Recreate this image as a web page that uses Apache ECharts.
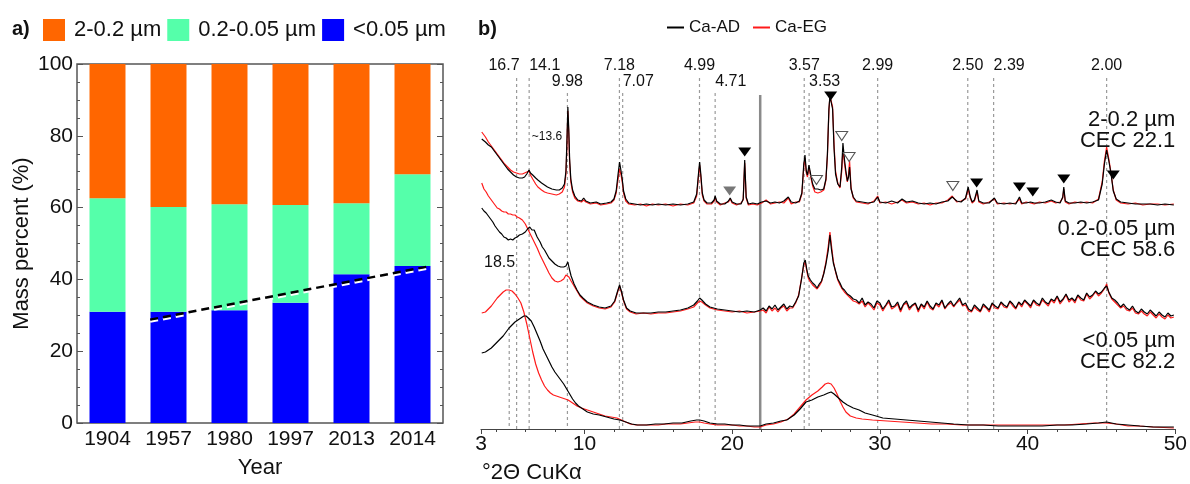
<!DOCTYPE html>
<html>
<head>
<meta charset="utf-8">
<script src="https://cdn.jsdelivr.net/npm/echarts@6.0.0/dist/echarts.min.js"></script>
<style>
  html, body { margin: 0; padding: 0; background: #fff; }
  #chart { width: 1190px; height: 484px; }
</style>
</head>
<body>
<div id="chart"></div>
<script>
// ---------- panel a: particle-size fractions by sampling year ----------
const years = ['1904', '1957', '1980', '1997', '2013', '2014'];
const fineFrac   = [31.0, 31.0, 31.4, 33.5, 41.4, 43.7];   // <0.05 µm
const mediumFrac = [31.6, 29.2, 29.5, 27.2, 19.8, 25.6];   // 0.2-0.05 µm
const coarseFrac = [37.4, 39.8, 39.1, 39.3, 38.8, 30.7];   // 2-0.2 µm
// linear trend of the <0.05 µm fraction (x in category units)
const fineTrend = [[1.2, 28.8], [5.79, 43.7]];

// ---------- panel b: XRD patterns (°2θ, intensity) ----------
const coarseAD = [[3.05,290],[3.3,287],[3.5,284],[3.7,282],[3.9,278],[4.1,274],[4.35,269],[4.6,264],[4.8,260],[5.0,257],[5.2,254],[5.4,252],[5.6,251],[5.8,251],[5.95,252],[6.1,255],[6.25,259],[6.35,256],[6.5,254],[6.7,251],[6.85,249],[7.1,246],[7.3,244],[7.5,242],[7.8,240],[8.1,239],[8.3,239],[8.5,241],[8.65,245],[8.75,258],[8.82,290],[8.88,322],[8.94,300],[9.0,270],[9.08,250],[9.2,239],[9.35,233],[9.55,229],[9.8,228],[9.95,231],[10.1,228],[10.4,226],[10.8,227],[11.1,225],[11.5,226],[11.8,227],[12.0,230],[12.15,238],[12.28,255],[12.38,267],[12.48,258],[12.56,250],[12.65,238],[12.8,230],[13.0,226],[13.4,225],[13.8,224],[14.2,225],[14.6,224],[15.0,225],[15.5,224],[16.0,225],[16.5,224],[17.0,225],[17.4,227],[17.6,235],[17.72,255],[17.8,267],[17.88,255],[17.98,236],[18.1,229],[18.3,226],[18.6,226],[18.78,229],[18.85,233],[18.95,228],[19.2,225],[19.5,225],[19.75,228],[19.87,231],[20.0,227],[20.3,225],[20.6,225],[20.75,230],[20.85,269],[20.95,232],[21.1,225],[21.4,226],[21.7,225],[22.0,227],[22.3,228],[22.6,226],[22.9,227],[23.2,226],[23.5,228],[23.8,232],[24.0,227],[24.3,226],[24.55,228],[24.72,236],[24.85,265],[24.93,274],[25.02,258],[25.1,254],[25.2,264],[25.26,266],[25.35,252],[25.45,245],[25.6,240],[25.8,240],[26.0,239],[26.2,240],[26.35,250],[26.45,275],[26.55,320],[26.62,333],[26.72,333],[26.8,320],[26.9,280],[27.0,255],[27.15,245],[27.3,242],[27.42,262],[27.5,286],[27.6,270],[27.7,258],[27.8,248],[27.88,252],[27.95,262],[28.05,240],[28.2,232],[28.4,228],[28.8,227],[29.2,226],[29.6,227],[29.85,232],[30.0,227],[30.4,226],[30.8,228],[31.2,226],[31.5,230],[31.8,227],[32.2,228],[32.6,226],[33.0,225],[33.4,226],[33.8,225],[34.2,227],[34.6,228],[34.9,232],[35.2,228],[35.5,227],[35.8,231],[35.98,242],[36.12,232],[36.25,227],[36.4,229],[36.58,239],[36.7,228],[37.0,226],[37.4,226],[37.75,231],[37.95,226],[38.4,225],[38.8,226],[39.2,225],[39.45,232],[39.6,226],[39.9,226],[40.2,227],[40.3,229],[40.45,226],[40.8,226],[41.2,227],[41.6,229],[41.9,227],[42.2,226],[42.38,232],[42.45,242],[42.55,228],[42.8,226],[43.2,226],[43.6,227],[44.0,226],[44.4,227],[44.8,229],[45.05,245],[45.2,265],[45.35,279],[45.5,268],[45.65,255],[45.8,238],[46.0,230],[46.3,227],[46.8,226],[47.3,225],[47.8,225],[48.3,225],[48.8,224],[49.3,225],[49.9,224]];

const coarseEG = [[3.05,297],[3.3,292],[3.5,287],[3.7,283],[3.9,279],[4.1,275],[4.35,270],[4.6,265],[4.8,262],[5.0,259],[5.2,257],[5.4,256],[5.6,255],[5.8,255],[5.95,256],[6.1,257],[6.25,258],[6.35,254],[6.5,250],[6.7,245],[6.85,242],[7.1,239],[7.3,237],[7.5,236],[7.8,235],[8.1,234],[8.3,235],[8.5,237],[8.65,242],[8.75,255],[8.82,285],[8.88,318],[8.94,296],[9.0,266],[9.08,247],[9.2,237],[9.35,231],[9.55,228],[9.8,227],[9.95,229],[10.1,227],[10.4,225],[10.8,226],[11.1,224],[11.5,225],[11.8,226],[12.0,229],[12.15,236],[12.28,250],[12.38,260],[12.48,254],[12.56,247],[12.65,236],[12.8,228],[13.0,225],[13.4,224],[13.8,225],[14.2,223],[14.6,225],[15.0,224],[15.5,225],[16.0,223],[16.5,225],[17.0,224],[17.4,226],[17.6,233],[17.72,252],[17.8,264],[17.88,252],[17.98,234],[18.1,228],[18.3,225],[18.6,225],[18.78,228],[18.85,232],[18.95,227],[19.2,224],[19.5,226],[19.75,227],[19.87,230],[20.0,226],[20.3,224],[20.6,226],[20.75,229],[20.85,266],[20.95,231],[21.1,224],[21.4,225],[21.7,224],[22.0,226],[22.3,229],[22.6,225],[22.9,226],[23.2,227],[23.5,226],[23.8,231],[24.0,225],[24.3,227],[24.55,227],[24.72,235],[24.85,262],[24.93,271],[25.02,256],[25.1,252],[25.2,262],[25.26,263],[25.35,250],[25.45,243],[25.6,237],[25.8,236],[26.0,237],[26.2,239],[26.35,249],[26.45,273],[26.55,318],[26.62,333],[26.72,333],[26.8,322],[26.9,284],[27.0,258],[27.15,246],[27.3,241],[27.42,258],[27.5,280],[27.6,266],[27.7,255],[27.8,247],[27.88,255],[27.95,268],[28.05,241],[28.2,231],[28.4,227],[28.8,226],[29.2,225],[29.6,228],[29.85,233],[30.0,226],[30.4,227],[30.8,225],[31.2,227],[31.5,229],[31.8,226],[32.2,227],[32.6,225],[33.0,226],[33.4,224],[33.8,226],[34.2,226],[34.6,229],[34.9,233],[35.2,227],[35.5,228],[35.8,230],[35.98,240],[36.12,231],[36.25,226],[36.4,228],[36.58,237],[36.7,227],[37.0,225],[37.4,227],[37.75,230],[37.95,225],[38.4,226],[38.8,225],[39.2,226],[39.45,230],[39.6,225],[39.9,227],[40.2,226],[40.3,228],[40.45,225],[40.8,227],[41.2,226],[41.6,228],[41.9,226],[42.2,227],[42.38,231],[42.45,240],[42.55,227],[42.8,225],[43.2,227],[43.6,226],[44.0,227],[44.4,226],[44.8,230],[45.05,247],[45.2,268],[45.35,282],[45.5,270],[45.65,256],[45.8,239],[46.0,229],[46.3,226],[46.8,225],[47.3,226],[47.8,224],[48.3,225],[48.8,225],[49.3,224],[49.9,225]];

const mediumAD = [[3.05,221],[3.2,218],[3.35,216],[3.5,213],[3.65,210],[3.8,207],[3.95,203],[4.1,200],[4.25,197],[4.4,195],[4.55,192],[4.7,191],[4.85,189],[5.0,190],[5.15,189],[5.3,191],[5.45,192],[5.6,194],[5.8,195],[6.0,197],[6.15,200],[6.3,202],[6.45,199],[6.6,199],[6.8,192],[7.0,187],[7.15,182],[7.3,179],[7.45,175],[7.6,171],[7.8,168],[8.0,165],[8.2,163],[8.4,162],[8.6,162],[8.75,163],[8.88,167],[8.98,160],[9.1,153],[9.3,145],[9.5,139],[9.7,134],[9.9,131],[10.2,127],[10.6,124],[11.0,122],[11.4,121],[11.8,123],[12.05,128],[12.25,138],[12.38,144],[12.5,138],[12.65,129],[12.85,121],[13.1,118],[13.5,116],[14.0,116],[14.5,116],[15.0,117],[15.5,117],[16.0,118],[16.5,119],[17.0,121],[17.4,124],[17.65,128],[17.8,131],[17.95,129],[18.2,125],[18.5,122],[19.0,120],[19.5,119],[20.0,118],[20.5,117],[21.0,118],[21.5,117],[21.9,119],[22.1,121],[22.3,118],[22.5,123],[22.7,120],[22.9,124],[23.1,119],[23.3,122],[23.5,125],[23.7,120],[23.9,123],[24.1,122],[24.3,127],[24.5,133],[24.7,150],[24.85,166],[24.95,169],[25.05,160],[25.15,153],[25.3,149],[25.45,146],[25.6,144],[25.75,141],[25.9,145],[26.05,148],[26.2,155],[26.35,165],[26.5,178],[26.62,194],[26.72,180],[26.85,166],[27.0,158],[27.15,150],[27.3,146],[27.45,141],[27.6,139],[27.8,135],[28.0,133],[28.2,130],[28.4,129],[28.6,126],[28.8,131],[29.0,124],[29.2,127],[29.4,125],[29.6,121],[29.8,128],[30.0,126],[30.2,120],[30.4,124],[30.6,129],[30.8,122],[31.0,123],[31.2,127],[31.4,119],[31.6,125],[31.8,128],[32.0,121],[32.2,124],[32.4,126],[32.6,119],[32.8,125],[33.0,122],[33.2,128],[33.4,123],[33.6,120],[33.8,126],[34.0,124],[34.2,129],[34.4,121],[34.6,125],[34.8,128],[35.0,123],[35.2,127],[35.4,131],[35.6,124],[35.8,126],[36.0,120],[36.2,118],[36.4,124],[36.6,121],[36.8,118],[37.0,125],[37.2,122],[37.4,119],[37.6,126],[37.8,123],[38.0,121],[38.2,127],[38.4,124],[38.6,122],[38.8,128],[39.0,125],[39.2,121],[39.4,127],[39.6,124],[39.8,129],[40.0,126],[40.2,123],[40.4,129],[40.6,126],[40.8,124],[41.0,131],[41.2,127],[41.4,125],[41.6,130],[41.8,128],[42.0,133],[42.2,127],[42.4,130],[42.6,135],[42.8,129],[43.0,131],[43.2,128],[43.4,134],[43.6,131],[43.8,129],[44.0,136],[44.2,132],[44.4,134],[44.6,138],[44.8,135],[45.0,137],[45.2,141],[45.35,143],[45.5,137],[45.7,131],[45.9,129],[46.1,126],[46.3,122],[46.5,125],[46.7,121],[46.9,119],[47.1,123],[47.3,118],[47.5,116],[47.7,120],[47.9,117],[48.1,115],[48.3,119],[48.5,116],[48.7,113],[48.9,117],[49.1,114],[49.3,112],[49.5,116],[49.7,113],[49.9,114]];

const mediumEG = [[3.05,246],[3.2,240],[3.35,237],[3.5,233],[3.65,230],[3.8,227],[3.95,224],[4.1,221],[4.25,220],[4.4,218],[4.55,217],[4.7,217],[4.85,215],[5.0,215],[5.15,214],[5.3,214],[5.45,212],[5.6,211],[5.8,209],[6.0,205],[6.2,199],[6.4,193],[6.6,187],[6.8,181],[7.0,174],[7.2,168],[7.4,162],[7.6,156],[7.8,151],[8.0,148],[8.2,147],[8.4,148],[8.6,150],[8.75,154],[8.85,156],[8.95,152],[9.1,148],[9.3,143],[9.5,138],[9.7,133],[9.9,130],[10.2,126],[10.6,123],[11.0,121],[11.4,120],[11.8,122],[12.05,127],[12.25,137],[12.38,143],[12.5,137],[12.65,128],[12.85,120],[13.1,117],[13.5,115],[14.0,116],[14.5,115],[15.0,116],[15.5,116],[16.0,117],[16.5,118],[17.0,120],[17.4,122],[17.65,126],[17.8,128],[17.95,127],[18.2,124],[18.5,121],[19.0,119],[19.5,118],[20.0,117],[20.5,118],[21.0,116],[21.5,117],[21.9,118],[22.1,119],[22.3,116],[22.5,122],[22.7,118],[22.9,121],[23.1,117],[23.3,121],[23.5,123],[23.7,118],[23.9,121],[24.1,121],[24.3,126],[24.5,134],[24.7,151],[24.85,164],[24.95,167],[25.05,158],[25.15,151],[25.3,147],[25.45,144],[25.6,142],[25.75,140],[25.9,143],[26.05,147],[26.2,156],[26.35,167],[26.5,182],[26.62,197],[26.72,184],[26.85,168],[27.0,157],[27.15,149],[27.3,144],[27.45,140],[27.6,137],[27.8,134],[28.0,131],[28.2,128],[28.4,127],[28.6,125],[28.8,128],[29.0,122],[29.2,126],[29.4,123],[29.6,119],[29.8,126],[30.0,124],[30.2,118],[30.4,123],[30.6,127],[30.8,120],[31.0,122],[31.2,125],[31.4,117],[31.6,124],[31.8,126],[32.0,119],[32.2,123],[32.4,125],[32.6,117],[32.8,124],[33.0,120],[33.2,127],[33.4,121],[33.6,119],[33.8,125],[34.0,122],[34.2,128],[34.4,120],[34.6,124],[34.8,126],[35.0,122],[35.2,126],[35.4,129],[35.6,123],[35.8,124],[36.0,118],[36.2,117],[36.4,122],[36.6,119],[36.8,117],[37.0,123],[37.2,121],[37.4,117],[37.6,125],[37.8,121],[38.0,120],[38.2,126],[38.4,122],[38.6,121],[38.8,127],[39.0,123],[39.2,120],[39.4,126],[39.6,122],[39.8,128],[40.0,125],[40.2,121],[40.4,128],[40.6,124],[40.8,123],[41.0,129],[41.2,126],[41.4,123],[41.6,129],[41.8,126],[42.0,132],[42.2,125],[42.4,129],[42.6,134],[42.8,127],[43.0,130],[43.2,126],[43.4,133],[43.6,129],[43.8,128],[44.0,135],[44.2,130],[44.4,133],[44.6,137],[44.8,133],[45.0,136],[45.2,140],[45.35,145],[45.5,136],[45.7,130],[45.9,127],[46.1,124],[46.3,121],[46.5,123],[46.7,119],[46.9,118],[47.1,121],[47.3,116],[47.5,115],[47.7,118],[47.9,115],[48.1,113],[48.3,117],[48.5,114],[48.7,111],[48.9,115],[49.1,112],[49.3,110],[49.5,114],[49.7,111],[49.9,112]];

const fineAD = [[3.05,76],[3.3,77],[3.5,79],[3.7,81],[3.9,84],[4.1,87],[4.3,90],[4.5,93],[4.7,97],[4.9,101],[5.1,104],[5.3,107],[5.5,109],[5.7,111],[5.9,113],[6.05,113],[6.2,111],[6.4,108],[6.6,102],[6.8,95],[7.0,88],[7.2,80],[7.4,74],[7.6,68],[7.8,62],[8.0,57],[8.2,53],[8.4,49],[8.6,45],[8.8,40],[9.0,35],[9.2,30],[9.4,26],[9.6,23],[9.9,20],[10.2,17],[10.6,15],[11.0,14],[11.5,12],[12.0,10],[12.4,9],[12.8,7],[13.2,5],[13.6,4],[14.2,4],[14.8,5],[15.4,5],[16.0,6],[16.6,6],[17.2,8],[17.6,9],[17.8,9],[18.1,8],[18.5,6],[19.0,5],[19.5,5],[20.0,4],[20.5,4],[21.0,3],[21.5,3],[21.9,3],[22.3,5],[22.8,6],[23.3,8],[23.7,9],[24.2,14],[24.6,20],[25.0,27],[25.4,29],[25.8,32],[26.2,34],[26.5,36],[26.7,37],[26.9,35],[27.2,31],[27.5,27],[27.8,24],[28.2,21],[28.6,19],[29.0,16],[29.5,14],[30.2,11],[31.0,10],[31.8,9],[32.6,8],[33.4,7],[34.2,6],[35.0,5],[36.0,4],[37.0,4],[38.0,3],[39.0,3],[40.0,3],[41.0,3],[42.0,4],[43.0,4],[44.0,5],[44.8,6],[45.35,7],[46.0,5],[46.8,4],[47.6,3],[48.5,2],[49.9,2]];

const fineEG = [[3.05,116],[3.3,117],[3.5,120],[3.7,123],[3.9,127],[4.1,131],[4.3,134],[4.5,137],[4.7,139],[4.9,139],[5.1,138],[5.3,135],[5.5,131],[5.7,126],[5.9,117],[6.1,105],[6.3,91],[6.5,77],[6.7,65],[6.9,56],[7.1,49],[7.3,43],[7.5,39],[7.7,36],[7.9,34],[8.1,33],[8.3,32],[8.5,31],[8.7,30],[8.9,29],[9.1,27],[9.3,25],[9.5,23],[9.8,21],[10.2,19],[10.6,17],[11.0,15],[11.4,13],[11.8,12],[12.2,11],[12.5,9],[12.8,7],[13.1,5],[13.5,4],[14.0,4],[14.5,4],[15.0,4],[15.5,5],[16.0,5],[16.5,5],[17.0,6],[17.5,7],[17.8,7],[18.1,6],[18.5,5],[19.0,4],[19.5,4],[20.0,4],[20.5,3],[21.0,3],[21.5,2],[21.9,2],[22.3,4],[22.8,5],[23.3,7],[23.8,10],[24.2,15],[24.6,22],[25.0,29],[25.4,34],[25.8,38],[26.1,42],[26.3,45],[26.5,46],[26.7,45],[26.9,41],[27.1,35],[27.3,28],[27.5,22],[27.7,17],[28.0,13],[28.4,11],[28.8,10],[29.5,9],[30.5,8],[31.5,7],[32.5,6],[33.5,5],[34.5,5],[35.5,4],[36.5,4],[37.5,4],[38.5,4],[39.5,4],[40.5,4],[41.5,4],[42.5,4],[43.5,5],[44.5,6],[45.3,6],[46.0,5],[46.8,3],[47.5,3],[48.5,2],[49.9,1]];

// d-spacings (Å) marked above the patterns and their °2θ positions
const dLabels = ['16.7', '14.1', '9.98', '7.18', '7.07', '4.99', '4.71', '3.57', '3.53', '2.99', '2.50', '2.39', '2.00'];
const dPositions = [5.41, 6.26, 8.85, 12.37, 12.59, 17.79, 18.85, 24.88, 25.21, 29.85, 35.95, 37.7, 45.35];
const glycolatedPeak = { label: '18.5', pos: 4.91 };

// mineral markers above the 2-0.2 µm pattern
const filledMarks = [[20.85, 277], [26.67, 333], [36.55, 246], [39.45, 242], [40.35, 237], [42.45, 250], [45.8, 254]];
const greyMarks = [[19.83, 238]];
const openMarks = [[25.71, 249], [27.42, 293], [27.92, 272], [34.94, 243]];

// sample annotations
const sampleNames = ['2-0.2 µm\nCEC 22.1', '0.2-0.05 µm\nCEC 58.6', '<0.05 µm\nCEC 82.2'];
const sampleNameY = [299, 190, 78];

// ---------- layout helpers (styling only) ----------
const FONT = "'Liberation Sans', Arial, sans-serif";
const TXT = '#111111';
const rowOf = { '16.7': 1, '14.1': 1, '9.98': 2, '7.18': 1, '7.07': 2, '4.99': 1, '4.71': 2, '3.57': 1, '3.53': 2, '2.99': 1, '2.50': 1, '2.39': 1, '2.00': 1 };
const alignOf = { '16.7': 'right', '14.1': 'left', '7.07': 'left', '4.71': 'left', '3.53': 'left', '2.39': 'left' };
const rowLabelY = { 1: 363, 2: 347 };
const rowLineTop = { 1: 351, 2: 336 };
const separatorAt = 21.9;

const refLabelData = dLabels.map((d, i) => ({
  name: d,
  value: [dPositions[i], rowLabelY[rowOf[d]]],
  label: { align: alignOf[d] || 'center', offset: d === '16.7' ? [3, 0] : [0, 0] }
}));
refLabelData.push({ name: glycolatedPeak.label, value: [glycolatedPeak.pos, 166], label: { align: 'right', offset: [6, 0] } });
refLabelData.push({ name: '~13.6', value: [6.44, 292], label: { align: 'left', fontSize: 12 } });

const dashStyle = { color: '#9a9a9a', width: 1.2, type: [3, 3] };
function vLine(x, top, style) {
  return {
    type: 'line', xAxisIndex: 2, yAxisIndex: 2, data: [[x, top], [x, 0]],
    symbol: 'none', silent: true, z: 1, lineStyle: style, emphasis: { disabled: true }
  };
}
const refLineSeries = dLabels.map((d, i) => vLine(dPositions[i], rowLineTop[rowOf[d]], dashStyle));
refLineSeries.push(vLine(glycolatedPeak.pos, 156, dashStyle));
refLineSeries.push(vLine(separatorAt, 334, { color: '#8a8a8a', width: 2.5 }));

const triPath = 'path://M0,0L12,0L6,9Z';
const majorTickValues = [3, 10, 20, 30, 40, 50];
const minorTickValues = [4, 6, 8, 12, 14, 16, 18, 22, 24, 26, 28, 32, 34, 36, 38, 42, 44, 46, 48];

function pattern(name, data, color) {
  return {
    type: 'line', name: name, data: data, xAxisIndex: 2, yAxisIndex: 2,
    symbol: 'none', color: color, z: 3,
    lineStyle: { color: color, width: 1.2 }, emphasis: { disabled: true }
  };
}
function textLayer(name, data, labelOpts) {
  return {
    type: 'scatter', name: name, xAxisIndex: 2, yAxisIndex: 2, z: 4, silent: true,
    data: data, symbolSize: 1, itemStyle: { color: 'rgba(0,0,0,0)', opacity: 1 },
    label: Object.assign({
      show: true, position: 'inside', verticalAlign: 'middle', formatter: '{b}',
      color: TXT, opacity: 1, textBorderWidth: 0, textBorderColor: 'transparent', fontFamily: FONT
    }, labelOpts)
  };
}

const chart = echarts.init(document.getElementById('chart'), null, { renderer: 'canvas' });
chart.setOption({
  animation: false,
  backgroundColor: '#fff',
  textStyle: { fontFamily: FONT, color: TXT },
  title: [
    { text: 'a)', left: 12, top: 19, padding: 0, textStyle: { fontFamily: FONT, fontSize: 20, fontWeight: 'bold', color: TXT } },
    { text: 'b)', left: 478, top: 19, padding: 0, textStyle: { fontFamily: FONT, fontSize: 20, fontWeight: 'bold', color: TXT } },
    { text: '°2Θ CuKα', left: 482, top: 462, padding: 0, textStyle: { fontFamily: FONT, fontSize: 22, fontWeight: 'normal', color: TXT } }
  ],
  legend: [
    {
      data: ['2-0.2 µm', '0.2-0.05 µm', '<0.05 µm'], left: 43, top: 19, padding: 0,
      icon: 'rect', itemWidth: 22, itemHeight: 22, itemGap: 6,
      textStyle: { fontFamily: FONT, fontSize: 22, color: TXT, padding: [0, 0, 0, 4] }
    },
    {
      data: ['Ca-AD', 'Ca-EG'], left: 667, top: 19, padding: 0,
      icon: 'rect', itemWidth: 17, itemHeight: 2, itemGap: 13,
      textStyle: { fontFamily: FONT, fontSize: 17, color: TXT }
    }
  ],
  grid: [
    { left: 77, top: 64, width: 366, height: 365, show: true, borderColor: '#555', borderWidth: 1.5, backgroundColor: 'transparent' },
    { left: 481, top: 60, width: 696, height: 369 }
  ],
  xAxis: [
    {
      type: 'category', gridIndex: 0, data: years, position: 'bottom',
      axisLine: { show: false }, axisTick: { show: false },
      axisLabel: { fontSize: 21, color: TXT, margin: 6, fontFamily: FONT },
      name: 'Year', nameLocation: 'middle', nameGap: 34,
      nameTextStyle: { fontSize: 22, color: TXT, fontFamily: FONT }
    },
    { type: 'value', gridIndex: 0, min: 0, max: 6, show: false, position: 'bottom' },
    {
      type: 'value', gridIndex: 1, min: 3, max: 50, position: 'bottom',
      axisLine: { show: true, lineStyle: { color: '#444', width: 1.2 } },
      axisTick: { show: true, customValues: majorTickValues, length: 5, lineStyle: { color: '#444' } },
      axisLabel: { customValues: majorTickValues, fontSize: 21, color: TXT, margin: 5, fontFamily: FONT },
      splitLine: { show: false }
    },
    {
      type: 'value', gridIndex: 1, min: 3, max: 50, position: 'bottom',
      axisLine: { show: false },
      axisTick: { show: true, customValues: minorTickValues, length: 3, lineStyle: { color: '#444' } },
      axisLabel: { show: false }, splitLine: { show: false }
    }
  ],
  yAxis: [
    {
      type: 'value', gridIndex: 0, min: 0, max: 100, interval: 20, position: 'left',
      axisLine: { show: false },
      axisTick: { show: true, inside: true, length: 6, lineStyle: { color: '#555' } },
      minorTick: { show: true, splitNumber: 4, length: 3, lineStyle: { color: '#555' } },
      axisLabel: { fontSize: 21, color: TXT, margin: 4, fontFamily: FONT },
      splitLine: { show: false },
      name: 'Mass percent (%)', nameLocation: 'middle', nameGap: 44, nameRotate: 90,
      nameTextStyle: { fontSize: 22, color: TXT, fontFamily: FONT }
    },
    {
      type: 'value', gridIndex: 0, min: 0, max: 100, interval: 20, position: 'right',
      axisLine: { show: false },
      axisTick: { show: true, inside: true, length: 6, lineStyle: { color: '#555' } },
      minorTick: { show: true, splitNumber: 4, length: 3, lineStyle: { color: '#555' } },
      axisLabel: { show: false }, splitLine: { show: false }
    },
    { type: 'value', gridIndex: 1, min: 0, max: 369, show: false }
  ],
  series: [
    { type: 'bar', name: '<0.05 µm', stack: 'frac', data: fineFrac, barWidth: '59%', color: '#0000ff', xAxisIndex: 0, yAxisIndex: 0 },
    { type: 'bar', name: '0.2-0.05 µm', stack: 'frac', data: mediumFrac, barWidth: '59%', color: '#55ffaa', xAxisIndex: 0, yAxisIndex: 0 },
    { type: 'bar', name: '2-0.2 µm', stack: 'frac', data: coarseFrac, barWidth: '59%', color: '#ff6600', xAxisIndex: 0, yAxisIndex: 0 },
    {
      type: 'line', name: 'trend', data: fineTrend, xAxisIndex: 1, yAxisIndex: 0, symbol: 'none', z: 5,
      lineStyle: { color: '#000', width: 2.5, type: [8, 5], shadowColor: '#ffffff', shadowOffsetY: 2, shadowBlur: 0 }
    },
    ...refLineSeries,
    textLayer('d-spacings', refLabelData, { fontSize: 16 }),
    pattern('Ca-EG', coarseEG, '#ff1a1a'),
    pattern('Ca-EG', mediumEG, '#ff1a1a'),
    pattern('Ca-EG', fineEG, '#ff1a1a'),
    pattern('Ca-AD', coarseAD, '#000000'),
    pattern('Ca-AD', mediumAD, '#000000'),
    pattern('Ca-AD', fineAD, '#000000'),
    {
      type: 'scatter', name: 'filled', xAxisIndex: 2, yAxisIndex: 2, z: 4, data: filledMarks,
      symbol: triPath, symbolSize: [13, 9], itemStyle: { color: '#000', opacity: 1 }, silent: true
    },
    {
      type: 'scatter', name: 'grey', xAxisIndex: 2, yAxisIndex: 2, z: 4, data: greyMarks,
      symbol: triPath, symbolSize: [13, 9], itemStyle: { color: '#777', opacity: 1 }, silent: true
    },
    {
      type: 'scatter', name: 'open', xAxisIndex: 2, yAxisIndex: 2, z: 4, data: openMarks,
      symbol: triPath, symbolSize: [12, 9], itemStyle: { color: '#fff', borderColor: '#555', borderWidth: 1, opacity: 1 }, silent: true
    },
    textLayer('samples', sampleNames.map((s, i) => ({ name: s, value: [50, sampleNameY[i]] })),
      { align: 'right', fontSize: 22, lineHeight: 21 })
  ]
});
</script>
</body>
</html>
